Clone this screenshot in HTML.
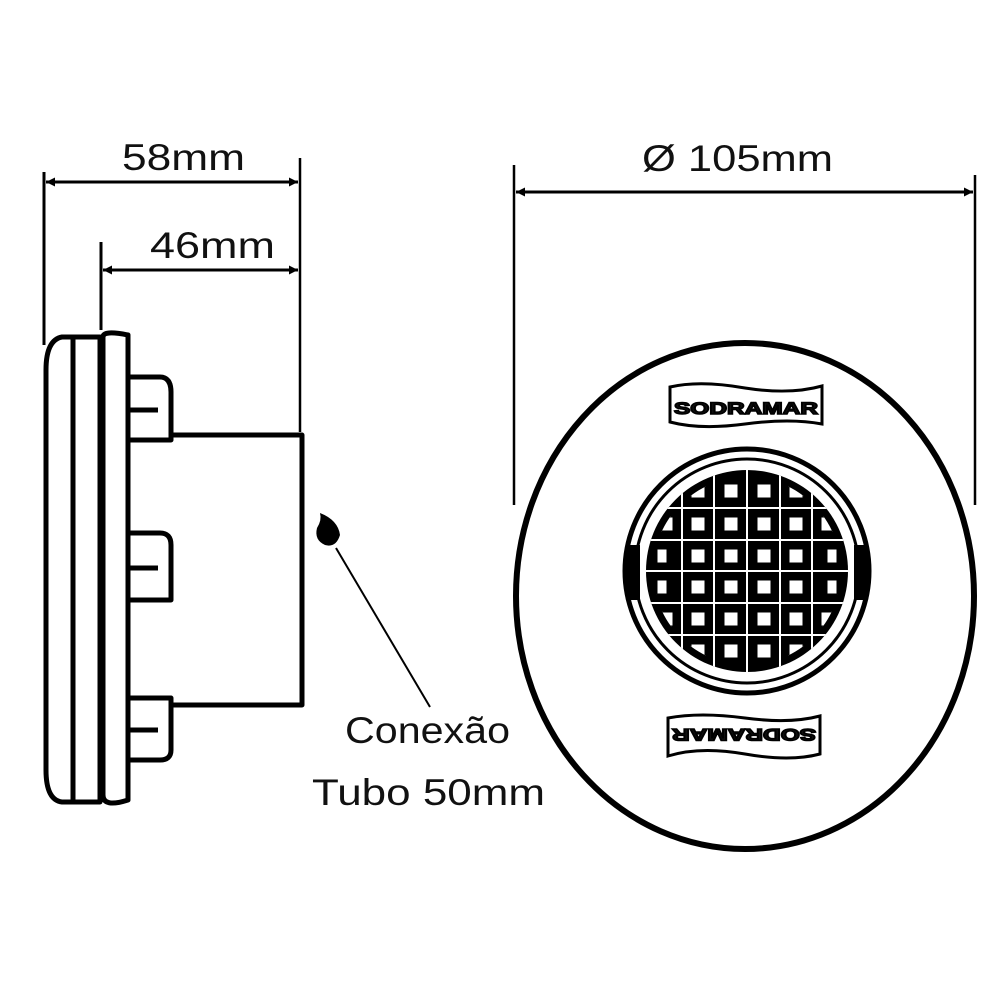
<!DOCTYPE html>
<html><head><meta charset="utf-8"><style>
html,body{margin:0;padding:0;background:#fff;}
svg{display:block;}
text{font-family:"Liberation Sans",sans-serif;fill:#111;}
</style></head><body>
<svg width="1000" height="1000" viewBox="0 0 1000 1000" xmlns="http://www.w3.org/2000/svg">
<defs>
<marker id="a" viewBox="0 0 10 10" refX="10" refY="5" markerWidth="9" markerHeight="9" orient="auto-start-reverse" markerUnits="userSpaceOnUse">
<path d="M0,0 L10,5 L0,10 z" fill="#000"/></marker>
<clipPath id="gc"><circle cx="747" cy="571" r="101"/></clipPath>
<clipPath id="gi"><circle cx="747" cy="571" r="94"/></clipPath>
</defs>
<g stroke="#000" stroke-width="3" fill="none">
<line x1="44" y1="172" x2="44" y2="345"/>
<line x1="101" y1="242" x2="101" y2="330"/>
<line x1="300" y1="158" x2="300" y2="432" stroke-width="2.5"/>
<line x1="46" y1="182" x2="298" y2="182" marker-start="url(#a)" marker-end="url(#a)"/>
<line x1="103" y1="270" x2="298" y2="270" marker-start="url(#a)" marker-end="url(#a)"/>
<line x1="514" y1="165" x2="514" y2="505" stroke-width="2.5"/>
<line x1="975" y1="175" x2="975" y2="505" stroke-width="2.5"/>
<line x1="516" y1="192" x2="973" y2="192" marker-start="url(#a)" marker-end="url(#a)"/>
</g>
<text x="122" y="170" font-size="37" textLength="123" lengthAdjust="spacingAndGlyphs">58mm</text>
<text x="150" y="258" font-size="37" textLength="125" lengthAdjust="spacingAndGlyphs">46mm</text>
<text x="642" y="171" font-size="37" textLength="191" lengthAdjust="spacingAndGlyphs">Ø 105mm</text>
<text x="345" y="743" font-size="37" textLength="165" lengthAdjust="spacingAndGlyphs">Conexão</text>
<text x="312" y="805" font-size="37" textLength="233" lengthAdjust="spacingAndGlyphs">Tubo 50mm</text>

<g stroke="#000" stroke-width="5" fill="none" stroke-linejoin="round">
<path d="M100,337 L62,337 Q46,340 46,370 L46,770 Q46,800 62,802 L100,802 Z"/>
<line x1="73" y1="337" x2="73" y2="802"/>
<path d="M103,337 Q103,330 128,335 L128,800 Q103,808 103,795 Z" stroke-width="5"/>
<line x1="101" y1="337" x2="101" y2="802" stroke-width="6"/>
<path d="M170,435 L302,435 L302,705 L170,705"/>
<path d="M130,377 L160,377 Q171,377 171,392 L171,440 L130,440"/>
<line x1="130" y1="410" x2="158" y2="410"/>
<path d="M130,533 L160,533 Q171,533 171,545 L171,600 L130,600"/>
<line x1="130" y1="568" x2="158" y2="568"/>
<path d="M130,698 L171,698 L171,750 Q171,760 160,760 L130,760"/>
<line x1="130" y1="730" x2="158" y2="730"/>
</g>
<path d="M320,513 Q338,520 340,535 Q336,548 325,545 Q314,540 317,528 Q322,520 320,513Z" fill="#000"/>
<line x1="336" y1="548" x2="430" y2="707" stroke="#000" stroke-width="2"/>

<ellipse cx="745" cy="596" rx="229" ry="253" fill="none" stroke="#000" stroke-width="6"/>
<circle cx="747" cy="571" r="122" fill="none" stroke="#000" stroke-width="5"/>
<circle cx="747" cy="571" r="112" fill="none" stroke="#000" stroke-width="3"/>
<g clip-path="url(#gc)">
<rect x="640" y="460" width="215" height="225" fill="#000"/>
<g stroke="#fff" stroke-width="2">
<line x1="630" y1="508" x2="870" y2="508"/><line x1="630" y1="540" x2="870" y2="540"/>
<line x1="630" y1="571" x2="870" y2="571"/><line x1="630" y1="603" x2="870" y2="603"/>
<line x1="630" y1="635" x2="870" y2="635"/>
<line x1="682" y1="460" x2="682" y2="685"/><line x1="714" y1="460" x2="714" y2="685"/>
<line x1="747" y1="460" x2="747" y2="685"/><line x1="780" y1="460" x2="780" y2="685"/>
<line x1="812" y1="460" x2="812" y2="685"/>
</g>
</g>
<path d="M640,545 L640,600 L626,600 Q622,571 626,545Z M854,545 L854,600 L868,600 Q872,571 868,545Z" fill="#000"/>
<g fill="#fff" stroke="#000" stroke-width="3" clip-path="url(#gi)">
<rect x="660" y="483" width="12" height="14"/>
<rect x="690" y="483" width="16" height="16"/><rect x="723" y="483" width="16" height="16"/><rect x="756" y="483" width="16" height="16"/><rect x="788" y="483" width="16" height="16"/><rect x="820" y="483" width="12" height="14"/>
<rect x="658" y="516" width="16" height="16"/><rect x="690" y="516" width="16" height="16"/><rect x="723" y="516" width="16" height="16"/><rect x="756" y="516" width="16" height="16"/><rect x="788" y="516" width="16" height="16"/><rect x="820" y="516" width="16" height="16"/>
<rect x="656" y="548" width="12" height="16"/><rect x="690" y="548" width="16" height="16"/><rect x="723" y="548" width="16" height="16"/><rect x="756" y="548" width="16" height="16"/><rect x="788" y="548" width="16" height="16"/><rect x="826" y="548" width="12" height="16"/>
<rect x="656" y="579" width="12" height="16"/><rect x="690" y="579" width="16" height="16"/><rect x="723" y="579" width="16" height="16"/><rect x="756" y="579" width="16" height="16"/><rect x="788" y="579" width="16" height="16"/><rect x="826" y="579" width="12" height="16"/>
<rect x="658" y="611" width="16" height="16"/><rect x="690" y="611" width="16" height="16"/><rect x="723" y="611" width="16" height="16"/><rect x="756" y="611" width="16" height="16"/><rect x="788" y="611" width="16" height="16"/><rect x="820" y="611" width="16" height="16"/>
<rect x="690" y="643" width="16" height="16"/><rect x="723" y="643" width="16" height="16"/><rect x="756" y="643" width="16" height="16"/><rect x="788" y="643" width="16" height="16"/>
</g>
<path d="M670,387 Q700,380 745,388 Q790,395 822,386 L822,424 Q790,418 745,424 Q700,430 670,422Z" fill="#fff" stroke="#000" stroke-width="3"/>
<text x="674" y="414" font-size="17" font-weight="bold" textLength="144" lengthAdjust="spacingAndGlyphs" stroke="#000" stroke-width="1.5">SODRAMAR</text>
<path d="M668,718 Q700,712 745,718 Q790,724 820,716 L820,754 Q790,762 745,754 Q700,746 668,756Z" fill="#fff" stroke="#000" stroke-width="3"/>
<text transform="translate(816,729) scale(-1,-1)" x="0" y="0" font-size="17" font-weight="bold" textLength="144" lengthAdjust="spacingAndGlyphs" stroke="#000" stroke-width="1.5">SODRAMAR</text>
</svg>
</body></html>
